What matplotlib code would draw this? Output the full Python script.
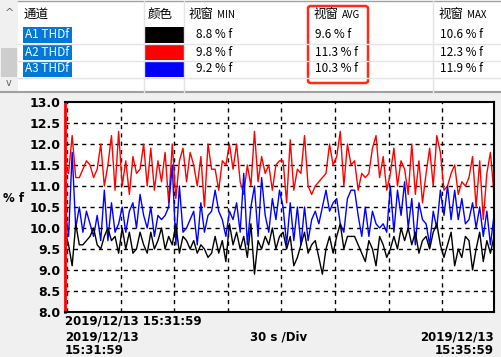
import matplotlib
matplotlib.use('Agg')
import matplotlib.pyplot as plt
from matplotlib.patches import Rectangle, FancyBboxPatch
from matplotlib.lines import Line2D
import numpy as np

plt.rcParams['font.family'] = ['Noto Sans CJK SC', 'DejaVu Sans']

# Data (one sample every 2 s over the 4 min window)
channels = ['A1 THDf', 'A2 THDf', 'A3 THDf']
colors = ['#000000', '#ff0000', '#0000ff']
win_min = ['8.8 % f', '9.8 % f', '9.2 % f']
win_avg = ['9.6 % f', '11.3 % f', '10.3 % f']
win_max = ['10.6 % f', '12.3 % f', '11.9 % f']

yticks = [8.0, 8.5, 9.0, 9.5, 10.0, 10.5, 11.0, 11.5, 12.0, 12.5, 13.0]
start_label = '2019/12/13 15:31:59'
start_date, start_time = '2019/12/13', '15:31:59'
end_date, end_time = '2019/12/13', '15:35:59'
div_label = '30 s /Div'

a1 = [9.9, 9.6, 9.1, 10.1, 9.6, 9.6, 9.7, 9.8, 10.0, 9.6, 9.5, 9.8, 10.0, 9.7, 9.8, 9.4, 10.0, 9.5, 9.9, 9.4, 9.5,
      9.9, 9.6, 9.4, 9.9, 9.5, 9.7, 10.0, 9.5, 9.8, 9.6, 10.1, 9.4, 9.8, 9.7, 9.5, 9.7, 9.4, 9.6, 9.5, 9.3,
      9.4, 9.8, 9.4, 9.7, 9.2, 10.1, 9.6, 9.9, 9.5, 9.8, 9.3, 10.1, 8.9, 9.7, 9.5, 9.8, 9.6, 10.0, 9.5, 9.8,
      9.9, 9.5, 9.8, 9.1, 9.3, 9.6, 9.9, 9.4, 9.6, 9.7, 9.3, 8.9, 9.5, 9.8, 9.4, 9.8, 10.1, 9.5, 9.8, 9.8,
      9.8, 9.6, 9.4, 9.2, 9.7, 9.5, 9.1, 9.8, 9.6, 9.3, 9.5, 9.8, 9.5, 10.0, 9.7, 10.0, 9.6, 9.9, 9.4, 9.7,
      9.8, 9.5, 9.9, 10.1, 9.6, 9.3, 9.6, 9.9, 9.1, 9.5, 9.3, 9.8, 9.7, 9.0, 9.5, 9.9, 9.2, 9.7, 9.4, 9.8]

a2 = [11.4, 11.3, 12.2, 11.2, 11.2, 11.4, 11.6, 11.5, 11.2, 11.4, 12.0, 11.0, 11.5, 12.2, 10.9, 12.3, 11.0, 11.6, 10.8, 11.7, 11.3,
      11.4, 12.0, 11.0, 11.9, 10.9, 11.6, 11.1, 11.8, 10.6, 12.0, 10.7, 11.6, 11.9, 11.1, 11.8, 11.5, 11.0, 11.7, 10.5, 12.0,
      11.4, 11.4, 10.9, 11.6, 11.5, 12.0, 11.4, 12.0, 11.1, 10.8, 11.5, 11.0, 12.3, 11.1, 11.7, 11.3, 11.5, 10.9, 11.5, 11.6,
      11.6, 10.6, 12.1, 10.9, 11.4, 11.3, 12.2, 11.0, 10.8, 11.0, 11.1, 11.2, 11.3, 12.0, 11.5, 11.7, 12.3, 11.0, 12.0, 11.5,
      11.6, 10.9, 11.3, 11.2, 11.3, 11.9, 12.2, 11.2, 11.7, 10.9, 11.3, 11.9, 11.0, 11.6, 11.4, 10.8, 12.0, 10.8, 11.6, 10.6,
      11.3, 11.9, 11.0, 12.2, 11.8, 10.9, 11.0, 11.3, 11.5, 10.8, 11.1, 11.0, 11.2, 11.7, 10.5, 11.6, 10.2, 11.3, 11.8, 10.8]

a3 = [10.5, 9.8, 11.8, 10.0, 10.5, 9.9, 10.4, 10.1, 9.8, 10.3, 9.7, 10.9, 9.7, 10.6, 9.9, 10.1, 10.5, 9.9, 10.4, 10.6, 10.0,
      10.8, 10.3, 10.0, 10.5, 9.8, 10.3, 10.2, 10.3, 10.5, 11.5, 9.6, 11.0, 9.9, 10.0, 10.2, 10.4, 9.6, 10.6, 9.9, 10.3,
      10.4, 10.9, 10.4, 10.2, 9.8, 10.4, 10.2, 10.6, 9.9, 11.3, 9.6, 10.5, 11.0, 9.8, 11.2, 10.3, 9.9, 10.7, 10.2, 10.9,
      10.5, 9.6, 10.6, 9.7, 10.5, 9.6, 10.5, 9.7, 10.2, 10.4, 10.1, 10.5, 10.9, 10.4, 10.6, 10.7, 10.1, 9.9, 10.7, 10.9,
      10.9, 10.3, 9.8, 10.5, 9.8, 10.4, 10.1, 10.0, 10.1, 9.9, 11.0, 9.9, 10.9, 10.3, 11.1, 10.0, 10.7, 9.6, 10.6, 10.2,
      10.1, 9.6, 10.4, 10.0, 10.9, 10.3, 11.0, 10.2, 10.9, 10.2, 10.7, 10.1, 10.2, 10.6, 10.0, 10.5, 9.8, 10.4, 9.6, 10.3]

t = np.arange(len(a1)) * 2.0

W, H = 502, 357
fig = plt.figure(figsize=(W / 100, H / 100), dpi=100)
fig.patch.set_facecolor('#f0f0f0')


def fx(x):
    return x / W


def fy(y):
    return 1 - y / H


def rect(x0, y0, x1, y1, **kw):
    fig.patches.append(Rectangle((fx(x0), fy(y1)), fx(x1) - fx(x0), fy(y0) - fy(y1),
                                 transform=fig.transFigure, **kw))


def hline(x0, x1, y, **kw):
    fig.lines.append(Line2D([fx(x0), fx(x1)], [fy(y), fy(y)], transform=fig.transFigure, **kw))


def vline(x, y0, y1, **kw):
    fig.lines.append(Line2D([fx(x), fx(x)], [fy(y0), fy(y1)], transform=fig.transFigure, **kw))


# ---- table at the top ----
rect(0, 0, W, 92, facecolor='white', edgecolor='none')
rect(0, 0, 18, 92, facecolor='#f0f0f0', edgecolor='none')
rect(1, 48, 17, 77, facecolor='#cdcdcd', edgecolor='none')
fig.text(fx(9), fy(13), '^', ha='center', va='center', fontsize=8, color='#606060', family='DejaVu Sans')
fig.text(fx(9), fy(83), 'v', ha='center', va='center', fontsize=7, color='#606060', family='DejaVu Sans')
hline(18, W, 1, color='#a0a0a0', lw=1)
hline(0, W, 92, color='#a0a0a0', lw=1.5)
for yy in [43.5, 60.5, 77.5]:
    hline(18, W, yy, color='#e4e4e4', lw=1)
for xx in [144, 184, 433]:
    vline(xx, 1, 92, color='#e4e4e4', lw=1)

fs = 8.5
fig.text(fx(24), fy(14), '通道', ha='left', va='center', fontsize=9)
fig.text(fx(148), fy(14), '颜色', ha='left', va='center', fontsize=9)
for xx, lab in [(189, 'MIN'), (314, 'AVG'), (439, 'MAX')]:
    fig.text(fx(xx), fy(14), '视窗', ha='left', va='center', fontsize=9)
    fig.text(fx(xx + 28), fy(15), lab, ha='left', va='center', fontsize=7)

rows_y = [(27, 43), (44, 60), (61, 77)]
for i, (y0, y1) in enumerate(rows_y):
    rect(23, y0, 72, y1, facecolor='#0078d7', edgecolor='none')
    fig.text(fx(25), fy((y0 + y1) / 2), channels[i], ha='left', va='center', fontsize=fs, color='white')
    rect(145, y0, 184, y1, facecolor=colors[i], edgecolor='none')
    fig.text(fx(196), fy((y0 + y1) / 2), win_min[i], ha='left', va='center', fontsize=fs)
    fig.text(fx(315), fy((y0 + y1) / 2), win_avg[i], ha='left', va='center', fontsize=fs)
    fig.text(fx(440), fy((y0 + y1) / 2), win_max[i], ha='left', va='center', fontsize=fs)

# red highlight box round the AVG column
fig.patches.append(FancyBboxPatch((fx(308), fy(83)), fx(368) - fx(308), fy(6) - fy(83),
                                  boxstyle='round,pad=0,rounding_size=0.006',
                                  transform=fig.transFigure, facecolor='none',
                                  edgecolor='#ff2a1a', lw=1.8))

# ---- trend chart ----
ax = fig.add_axes([fx(65), fy(312), fx(494) - fx(65), fy(102) - fy(312)])
ax.set_facecolor('white')
ax.plot(t, a2, color=colors[1], lw=1.0)
ax.plot(t, a3, color=colors[2], lw=1.0)
ax.plot(t, a1, color=colors[0], lw=1.0)
ax.set_xlim(0, 240)
ax.set_ylim(8.0, 13.0)
for v in yticks[1:-1]:
    ax.axhline(v, color='black', lw=1.0, ls=(0, (3, 3)), zorder=0)
for k in range(8):
    ax.axvline(1.1 + 30 * k, color='black', lw=1.0, ls=(0, (3, 3)), zorder=0)
ax.set_yticks(yticks)
ax.set_yticklabels([f'{v:.1f}' for v in yticks], fontsize=9, fontweight='bold', family='DejaVu Sans')
ax.set_xticks([])
ax.tick_params(axis='y', length=0, pad=3)
for s in ['top', 'right', 'bottom']:
    ax.spines[s].set_linewidth(1.5)
ax.spines['left'].set_color('red')
ax.spines['left'].set_linewidth(2)

fig.text(fx(3), fy(198), '% f', ha='left', va='center', fontsize=8.5, fontweight='bold', family='DejaVu Sans')
fig.text(fx(65), fy(321), start_label, ha='left', va='center', fontsize=8.5, fontweight='bold', family='DejaVu Sans')
fig.text(fx(65), fy(337), start_date, ha='left', va='center', fontsize=8.5, fontweight='bold', family='DejaVu Sans')
fig.text(fx(65), fy(350), start_time, ha='left', va='center', fontsize=8.5, fontweight='bold', family='DejaVu Sans')
fig.text(fx(279), fy(337), div_label, ha='center', va='center', fontsize=8.5, fontweight='bold', family='DejaVu Sans')
fig.text(fx(494), fy(337), end_date, ha='right', va='center', fontsize=8.5, fontweight='bold', family='DejaVu Sans')
fig.text(fx(494), fy(350), end_time, ha='right', va='center', fontsize=8.5, fontweight='bold', family='DejaVu Sans')

fig.savefig('out.png', dpi=100, facecolor=fig.get_facecolor())
